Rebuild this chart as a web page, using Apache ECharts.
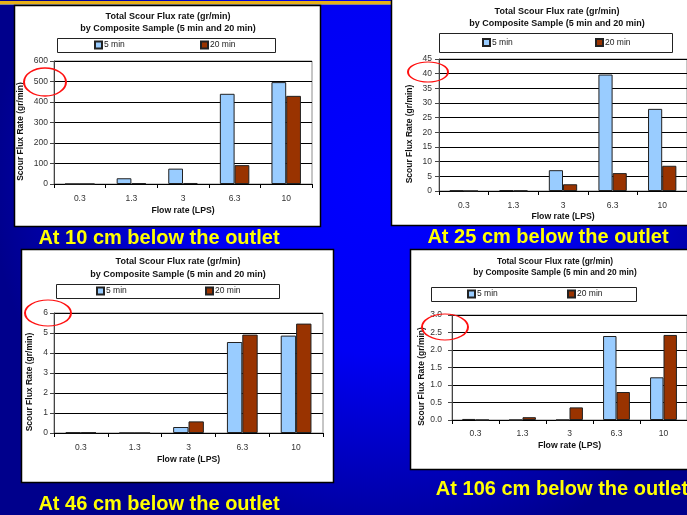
<!DOCTYPE html>
<html><head><meta charset="utf-8">
<script src="https://cdn.jsdelivr.net/npm/echarts@6/dist/echarts.min.js"></script>
<style>html,body{margin:0;padding:0;background:#0000c0;}#c{width:687px;height:515px;}</style>
</head><body><div id="c"></div>
<script>
// ---------- data ----------
const categories = ['0.3', '1.3', '3', '6.3', '10'];
const seriesNames = ['5 min', '20 min'];
const cm10_5min  = [0, 28, 75, 440, 497];
const cm10_20min = [0, 4, 5, 92, 430];
const cm25_5min  = [0.15, 0.3, 7.1, 39.7, 28];
const cm25_20min = [0, 0.1, 2.3, 6.1, 8.6];
const cm46_5min  = [0.03, 0, 0.3, 4.55, 4.87];
const cm46_20min = [0.03, 0, 0.58, 4.92, 5.47];
const cm106_5min  = [0.03, 0, 0, 2.4, 1.22];
const cm106_20min = [0, 0.08, 0.36, 0.8, 2.43];
const yMaxes = [600, 45, 6, 3.0];
const yIntervals = [100, 5, 1, 0.5];
const yDecimals = [0, 0, 0, 1];
const captions = ['At 10 cm below the outlet', 'At 25 cm below the outlet', 'At 46 cm below the outlet', 'At 106 cm below the outlet'];
const titleLine1 = 'Total Scour Flux rate (gr/min)';
const titleLine2 = 'by Composite Sample (5 min and 20 min)';
const yAxisName = 'Scour Flux Rate (gr/min)';
const xAxisName = 'Flow rate (LPS)';
const data5 = [cm10_5min, cm25_5min, cm46_5min, cm106_5min];
const data20 = [cm10_20min, cm25_20min, cm46_20min, cm106_20min];

// ---------- layout ----------
const L = [
  {panel:[14,5,306,221], grid:[54,61,258,123], title:[168,17,29], tfs:9, legBox:[57,38,218,14], leg:[94,200], legC:45, xLabM:10, xNameGap:22, yNameGap:28.5, yLabM:6, cap:[159,238], ell:[45,82,21,14]},
  {panel:[391,-3,312,228], grid:[439,59,250,132], title:[557,12,24], tfs:9, legBox:[439,33,233,19], leg:[482,595], legC:42.5, xLabM:10, xNameGap:21.5, yNameGap:24.5, yLabM:7, cap:[548,237.5], ell:[428,72,20,10]},
  {panel:[21,249,312,233], grid:[54,313,269,120], title:[178,262,275], tfs:9, legBox:[56,284,223,14], leg:[96,205], legC:291, xLabM:10, xNameGap:22.5, yNameGap:19.5, yLabM:6, cap:[159,504], ell:[48,313,23,13]},
  {panel:[410,249,292,220], grid:[452,315,236,105], title:[555,262,273], tfs:8.4, legBox:[431,287,205,14], leg:[467,567], legC:294, xLabM:9.5, xNameGap:21.5, yNameGap:24.5, yLabM:10, cap:[562,489], ell:[445,327,23,13]}
];
const FONT = 'Liberation Sans, Arial, sans-serif';
const C5 = '#99ccff', C20 = '#993300';

const grids = [], xAxes = [], yAxes = [], series = [], legends = [], graphics = [];

graphics.push({type:'rect', z:-20, shape:{x:0,y:0,width:687,height:515},
  style:{fill:{type:'radial', x:0.55, y:0.35, r:0.75, colorStops:[{offset:0,color:'#0000ff'},{offset:0.45,color:'#0000f4'},{offset:1,color:'#00008c'}]}}});
graphics.push({type:'rect', z:-15, shape:{x:0,y:1,width:391,height:3}, style:{fill:'#e8b018'}});
graphics.push({type:'rect', z:-15, shape:{x:0,y:4,width:391,height:1}, style:{fill:'#8a8a8a'}});

L.forEach((p, i) => {
  graphics.push({type:'rect', z:-10, shape:{x:p.panel[0]+0.5,y:p.panel[1]+0.5,width:p.panel[2],height:p.panel[3]},
    style:{fill:'#ffffff', stroke:'#000000', lineWidth:1.5}});
  graphics.push({type:'text', z:5, style:{text:titleLine1, x:p.title[0], y:p.title[1], align:'center', verticalAlign:'middle', font:'bold '+p.tfs+'px '+FONT, fill:'#111'}});
  graphics.push({type:'text', z:5, style:{text:titleLine2, x:p.title[0], y:p.title[2], align:'center', verticalAlign:'middle', font:'bold '+p.tfs+'px '+FONT, fill:'#111'}});
  graphics.push({type:'rect', z:5, shape:{x:p.legBox[0]+0.5,y:p.legBox[1]+0.5,width:p.legBox[2],height:p.legBox[3]},
    style:{fill:'#ffffff', stroke:'#222', lineWidth:1}});
  graphics.push({type:'text', z:50, style:{text:captions[i], x:p.cap[0], y:p.cap[1], align:'center', verticalAlign:'middle', font:'bold 20px '+FONT, fill:'#ffff00'}});
  graphics.push({type:'circle', z:60, x:p.ell[0], y:p.ell[1], scaleY:p.ell[3]/p.ell[2], shape:{cx:0,cy:0,r:p.ell[2]},
    style:{fill:'none', stroke:'#ff1010', lineWidth:2, strokeNoScale:true}});

  grids.push({left:p.grid[0], top:p.grid[1], width:p.grid[2], height:p.grid[3], show:true, backgroundColor:'transparent', borderColor:'#8c8c8c', borderWidth:1});
  xAxes.push({type:'category', gridIndex:i, data:categories,
    axisLine:{lineStyle:{color:'#000', width:1}},
    axisTick:{show:true, length:4, lineStyle:{color:'#000'}},
    axisLabel:{margin:p.xLabM, fontSize:8.5, color:'#333', fontFamily:FONT},
    name:xAxisName, nameLocation:'middle', nameGap:p.xNameGap,
    nameTextStyle:{fontSize:8.7, fontWeight:'bold', color:'#111', fontFamily:FONT}});
  const dec = yDecimals[i];
  yAxes.push({type:'value', gridIndex:i, min:0, max:yMaxes[i], interval:yIntervals[i],
    axisLine:{show:true, lineStyle:{color:'#444'}},
    axisTick:{show:true, length:4, lineStyle:{color:'#444'}},
    splitLine:{show:true, lineStyle:{color:'#000', width:1}},
    axisLabel:{margin:p.yLabM, fontSize:8.5, color:'#333', fontFamily:FONT, formatter:v => v.toFixed(dec)},
    name:yAxisName, nameLocation:'middle', nameGap:p.yNameGap,
    nameTextStyle:{fontSize:8.5, fontWeight:'bold', color:'#111', fontFamily:FONT, padding:[0,18,0,0]}});
  series.push({type:'bar', name:seriesNames[0], xAxisIndex:i, yAxisIndex:i, data:data5[i], barGap:'0%', barCategoryGap:'42.86%',
    itemStyle:{color:C5, borderColor:'#222', borderWidth:1}, emphasis:{disabled:true}, animation:false, z:3});
  series.push({type:'bar', name:seriesNames[1], xAxisIndex:i, yAxisIndex:i, data:data20[i], barGap:'0%', barCategoryGap:'42.86%',
    itemStyle:{color:C20, borderColor:'#222', borderWidth:1}, emphasis:{disabled:true}, animation:false, z:3});
  [0,1].forEach(k => {
    legends.push({data:[seriesNames[k]], left:p.leg[k], top:p.legC-5, padding:0, itemWidth:7, itemHeight:7, itemGap:0,
      icon:'rect', selectedMode:false, z:8,
      textStyle:{fontSize:8.5, color:'#222', fontFamily:FONT, lineHeight:10, padding:[0,0,0,-3]}});
  });
});

const chart = echarts.init(document.getElementById('c'), null, {renderer:'canvas'});
chart.setOption({
  animation:false,
  backgroundColor:'transparent',
  graphic:{elements:graphics},
  grid:grids, xAxis:xAxes, yAxis:yAxes, series:series, legend:legends
});
</script></body></html>
